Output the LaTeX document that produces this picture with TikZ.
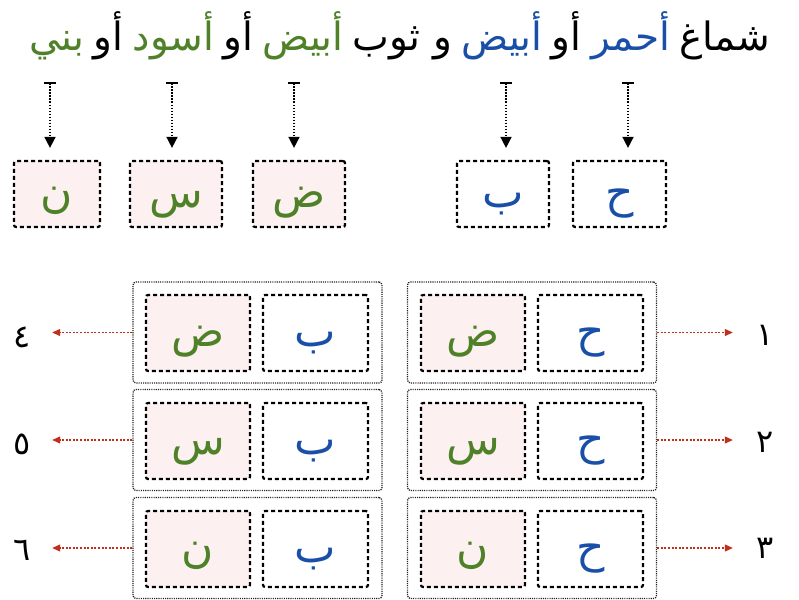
\documentclass[tikz,border=0pt]{standalone}
\usepackage{fontspec}
\newfontfamily\arabicfont[Script=Arabic]{DejaVu Sans}
\TeXXeTstate=1
\usetikzlibrary{arrows.meta}
\definecolor{ablue}{HTML}{1A4FA8}
\definecolor{agreen}{HTML}{4F8128}
\definecolor{ared}{HTML}{C0301A}
\definecolor{afill}{HTML}{FCF1F0}
\definecolor{aframe}{HTML}{202020}
\begin{document}
\begin{tikzpicture}[x=1pt,y=-1pt,
  letterbox/.style={draw=black, dash pattern=on 4pt off 3pt, line width=2.2pt, rounded corners=2pt,
    minimum height=66pt, inner sep=0pt, text height=26pt, text depth=0pt,
    font=\arabicfont\fontsize{44}{50}\selectfont},
  gbox/.style={letterbox, fill=afill, text=agreen},
  bbox/.style={letterbox, text=ablue},
  cellg/.style={gbox, minimum width=104pt, minimum height=76pt},
  cellb/.style={bbox, minimum width=105pt, minimum height=76pt},
  outerbox/.style={draw=aframe, dash pattern=on 1.1pt off 1.1pt, line width=1.3pt, rounded corners=3pt,
    minimum width=249pt, minimum height=101pt, inner sep=0pt},
  toparrow/.style={dash pattern=on 1.5pt off 1.5pt, line width=1.6pt,
    {Bar[width=12pt,line width=2pt]}-{Triangle[width=11pt,length=11pt]}},
  redarrow/.style={draw=ared, dash pattern=on 2pt off 1.6pt, line width=1.1pt,
    -{Triangle[width=7pt,length=8pt]}},
  numlabel/.style={font=\arabicfont\fontsize{32}{36}\selectfont, inner sep=0pt, minimum width=30pt},
  tw/.style={font=\arabicfont\fontsize{39}{44}\selectfont, inner sep=0pt, anchor=base east}
]
\useasboundingbox (0,0) rectangle (799,599);

% title, word by word from right to left
\node[tw] (w1) at (770,51) {\beginR شماغ\endR};
\node[tw, text=ablue] (w2) at ([xshift=-9pt]w1.base west) {\beginR أحمر\endR};
\node[tw] (w3) at ([xshift=-9pt]w2.base west) {\beginR أو\endR};
\node[tw, text=ablue] (w4) at ([xshift=-9pt]w3.base west) {\beginR أبيض\endR};
\node[tw] (w5) at ([xshift=-9pt]w4.base west) {\beginR و ثوب\endR};
\node[tw, text=agreen] (w6) at ([xshift=-9pt]w5.base west) {\beginR أبيض\endR};
\node[tw] (w7) at ([xshift=-9pt]w6.base west) {\beginR أو\endR};
\node[tw, text=agreen] (w8) at ([xshift=-9pt]w7.base west) {\beginR أسود\endR};
\node[tw] (w9) at ([xshift=-9pt]w8.base west) {\beginR أو\endR};
\node[tw, text=agreen] (w10) at ([xshift=-9pt]w9.base west) {\beginR بني\endR};

% top letter boxes
\node[gbox, minimum width=86pt] (tn) at (57,194) {ن};
\node[gbox, minimum width=92pt] (ts) at (176,194) {س};
\node[gbox, minimum width=92pt] (td) at (299,194) {ض};
\node[bbox, minimum width=92pt] (tb) at (503,194) {ب};
\node[bbox, minimum width=93pt] (th) at (619.5,194) {ح};

% top arrows
\coordinate (sn) at (50,82);
\coordinate (ss) at (172,82);
\coordinate (sd) at (294,82);
\coordinate (sb) at (506,82);
\coordinate (sh) at (628,82);
\draw[toparrow, shorten >=12pt] (sn) -- (sn |- tn.north);
\draw[toparrow, shorten >=12pt] (ss) -- (ss |- ts.north);
\draw[toparrow, shorten >=12pt] (sd) -- (sd |- td.north);
\draw[toparrow, shorten >=12pt] (sb) -- (sb |- tb.north);
\draw[toparrow, shorten >=12pt] (sh) -- (sh |- th.north);

% outer row boxes
\node[outerbox] (o1) at (532,332.5) {};
\node[outerbox] (o2) at (532,440) {};
\node[outerbox] (o3) at (532,548) {};
\node[outerbox] (o4) at (257.5,332.5) {};
\node[outerbox] (o5) at (257.5,440) {};
\node[outerbox] (o6) at (257.5,548) {};

% inner cells, right column
\node[cellg] (g1) at (473,333) {ض};
\node[cellb] (b1) at (590.5,333) {ح};
\node[cellg] (g2) at (473,441) {س};
\node[cellb] (b2) at (590.5,441) {ح};
\node[cellg] (g3) at (473,549) {ن};
\node[cellb] (b3) at (590.5,549) {ح};
% inner cells, left column
\node[cellg] (g4) at (198,333) {ض};
\node[cellb] (b4) at (315.5,333) {ب};
\node[cellg] (g5) at (198,441) {س};
\node[cellb] (b5) at (315.5,441) {ب};
\node[cellg] (g6) at (198,549) {ن};
\node[cellb] (b6) at (315.5,549) {ب};

% number labels
\node[numlabel] (l1) at (765,335) {١};
\node[numlabel] (l2) at (765,442) {٢};
\node[numlabel] (l3) at (765,548) {٣};
\node[numlabel] (l4) at (22,337) {٤};
\node[numlabel] (l5) at (22,444) {٥};
\node[numlabel] (l6) at (22,550) {٦};

% red arrows
\draw[redarrow, shorten >=17pt] (o1.east) -- (o1.east -| l1.west);
\draw[redarrow, shorten >=17pt] (o2.east) -- (o2.east -| l2.west);
\draw[redarrow, shorten >=17pt] (o3.east) -- (o3.east -| l3.west);
\draw[redarrow, shorten >=15pt] (o4.west) -- (o4.west -| l4.east);
\draw[redarrow, shorten >=15pt] (o5.west) -- (o5.west -| l5.east);
\draw[redarrow, shorten >=15pt] (o6.west) -- (o6.west -| l6.east);
\end{tikzpicture}
\end{document}
